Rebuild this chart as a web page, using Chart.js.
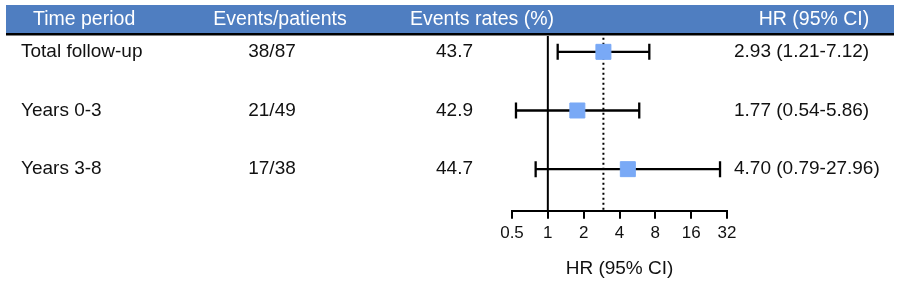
<!DOCTYPE html>
<html>
<head>
<meta charset="utf-8">
<script src="https://cdn.jsdelivr.net/npm/chart.js@4/dist/chart.umd.min.js"></script>
<style>
  html, body { margin: 0; padding: 0; background: #fff; }
  #wrap { position: relative; width: 900px; height: 283px; }
</style>
</head>
<body>
<div id="wrap"><canvas id="c"></canvas></div>
<script>
// table columns
const periods = ["Total follow-up", "Years 0-3", "Years 3-8"];
const eventsPatients = ["38/87", "21/49", "17/38"];
const eventRates = ["43.7", "42.9", "44.7"];
const hrLabels = ["2.93 (1.21-7.12)", "1.77 (0.54-5.86)", "4.70 (0.79-27.96)"];
const headers = ["Time period", "Events/patients", "Events rates (%)", "HR (95% CI)"];

// forest plot values
const hr = [2.93, 1.77, 4.70];
const ciLow = [1.21, 0.54, 0.79];
const ciHigh = [7.12, 5.86, 27.96];
const tickValues = [0.5, 1, 2, 4, 8, 16, 32];
const overallHR = 2.93;

const font = "'Liberation Sans', Arial, Helvetica, sans-serif";
const yMin = -0.27, yMax = 2.71;

const datasets = [];

// confidence intervals with caps
hr.forEach((v, i) => {
  datasets.push({
    type: 'line',
    data: [{x: ciLow[i], y: i}, {x: ciHigh[i], y: i}],
    borderColor: '#000',
    borderWidth: 2.3,
    pointStyle: 'line',
    rotation: 90,
    pointRadius: 8,
    pointBorderWidth: 2.3,
    pointBorderColor: '#000',
    order: 2
  });
});

// reference line at HR = 1
datasets.push({
  type: 'line',
  data: [{x: 1, y: yMin}, {x: 1, y: yMax}],
  borderColor: '#000',
  borderWidth: 2,
  pointRadius: 0,
  order: 3
});

// dotted line at overall HR
datasets.push({
  type: 'line',
  data: [{x: overallHR, y: yMin + 0.03}, {x: overallHR, y: yMax}],
  borderColor: '#000',
  borderWidth: 2,
  borderDash: [2, 3],
  pointRadius: 0,
  order: 3
});

// point estimates
datasets.push({
  type: 'scatter',
  data: hr.map((v, i) => ({x: v, y: i})),
  pointStyle: 'rect',
  pointRadius: 10.6,
  backgroundColor: '#79a9f6',
  borderColor: '#79a9f6',
  borderWidth: 1,
  order: 1
});

const tablePlugin = {
  id: 'table',
  beforeDraw(chart) {
    const ctx = chart.ctx;
    ctx.save();
    ctx.fillStyle = '#4f7ec1';
    ctx.fillRect(6, 5, 888, 29);
    ctx.fillStyle = '#000';
    ctx.fillRect(6, 33, 888, 2.5);
    ctx.font = '19.5px ' + font;
    ctx.fillStyle = '#fff';
    ctx.textBaseline = 'middle';
    ctx.textAlign = 'left';
    ctx.fillText(headers[0], 33, 20);
    ctx.textAlign = 'center';
    ctx.fillText(headers[1], 280, 20);
    ctx.fillText(headers[2], 482, 20);
    ctx.fillText(headers[3], 814, 20);
    ctx.restore();
  },
  afterDraw(chart) {
    const ctx = chart.ctx;
    const ys = chart.scales.y;
    ctx.save();
    ctx.font = '19px ' + font;
    ctx.fillStyle = '#111';
    ctx.textBaseline = 'middle';
    periods.forEach((p, i) => {
      const y = ys.getPixelForValue(i);
      ctx.textAlign = 'left';
      ctx.fillText(p, 21, y);
      ctx.textAlign = 'center';
      ctx.fillText(eventsPatients[i], 272, y);
      ctx.textAlign = 'right';
      ctx.fillText(eventRates[i], 473, y);
      ctx.textAlign = 'left';
      ctx.fillText(hrLabels[i], 734, y);
    });
    ctx.restore();
  }
};

new Chart(document.getElementById('c'), {
  data: { datasets },
  plugins: [tablePlugin],
  options: {
    responsive: true,
    maintainAspectRatio: false,
    animation: false,
    layout: { padding: { left: 512, right: 173, top: 36, bottom: 1 } },
    plugins: { legend: { display: false }, tooltip: { enabled: false } },
    scales: {
      x: {
        type: 'logarithmic',
        min: 0.5,
        max: 32,
        afterBuildTicks: (scale) => { scale.ticks = tickValues.map(v => ({ value: v })); },
        ticks: {
          color: '#111',
          font: { family: font, size: 17 },
          padding: 4,
          maxRotation: 0,
          autoSkip: false,
          callback: (v) => String(v)
        },
        grid: {
          drawOnChartArea: false,
          drawTicks: true,
          tickLength: 8,
          color: '#000',
          lineWidth: 2
        },
        border: { display: true, color: '#000', width: 2 },
        title: {
          display: true,
          text: 'HR (95% CI)',
          color: '#111',
          font: { family: font, size: 19 },
          padding: { top: 10, bottom: 2 }
        }
      },
      y: {
        type: 'linear',
        display: false,
        reverse: true,
        min: yMin,
        max: yMax
      }
    }
  }
});
</script>
</body>
</html>
